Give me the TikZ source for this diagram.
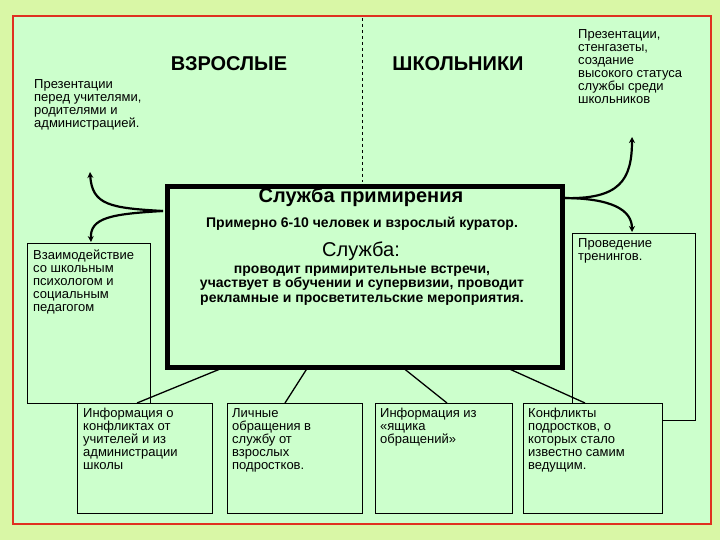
\documentclass[tikz,border=0pt]{standalone}
\usepackage{fontspec}
\setmainfont{Liberation Sans}
\usetikzlibrary{arrows.meta}
\definecolor{bgout}{HTML}{D9F7A6}
\definecolor{bgin}{HTML}{CCFFCC}
\definecolor{redb}{HTML}{E03020}
\tikzset{x=1pt,y=-1pt,
 box/.style={draw=black,line width=0.6pt,fill=bgin,anchor=north west,inner sep=0pt},
 txt/.style={font=\fontsize{13}{13}\selectfont,align=left,anchor=north west,inner sep=0pt},
 con/.style={line width=1.3pt},
 arr/.style={line width=2.2pt,-{Stealth[length=6pt,width=6pt]}}}
\begin{document}
\begin{tikzpicture}
\useasboundingbox (0,0) rectangle (720,540);
\fill[bgout] (0,0) rectangle (720,540);
\draw[redb,line width=2pt,fill=bgin] (13,16) rectangle (711,524);
\draw[dashed,line width=1pt] (362,18) -- (362,182);
\node[font=\bfseries\fontsize{20}{22}\selectfont] (vz) at (229,64) {ВЗРОСЛЫЕ};
\node[font=\bfseries\fontsize{20}{22}\selectfont] (sh) at (458,64) {ШКОЛЬНИКИ};
\node[txt] (pl) at (34,79) {Презентации\\перед учителями,\\родителями и\\администрацией.};
\node[txt] (pr) at (578,29) {Презентации,\\стенгазеты,\\создание\\высокого статуса\\службы среди\\школьников};
\node[draw,line width=5pt,fill=bgin,minimum width=395pt,minimum height=181pt,anchor=north west,inner sep=0pt] (c) at (165,184) {};
\node[font=\bfseries\fontsize{20}{22}\selectfont] (c1) at (361,197) {Служба примирения};
\node[font=\bfseries\fontsize{14}{15}\selectfont] (c2) at (362,224) {Примерно 6-10 человек и взрослый куратор.};
\node[font=\fontsize{20}{22}\selectfont] (c3) at (361,251) {Служба:};
\node[font=\bfseries\fontsize{14}{14.5}\selectfont,align=center,anchor=north] (c4) at (362,262) {проводит примирительные встречи,\\участвует в обучении и супервизии, проводит\\рекламные и просветительские мероприятия.};
\node[box,minimum width=123pt,minimum height=160pt] (lb) at (27,243) {};
\node[txt] (lbt) at (33,250) {Взаимодействие\\со школьным\\психологом и\\социальным\\педагогом};
\node[box,minimum width=123pt,minimum height=187pt] (rb) at (572,233) {};
\node[txt] (rbt) at (578,238) {Проведение\\тренингов.};
\node[box,minimum width=135pt,minimum height=110pt] (b1) at (77,403) {};
\node[box,minimum width=135pt,minimum height=110pt] (b2) at (227,403) {};
\node[box,minimum width=137pt,minimum height=110pt] (b3) at (375,403) {};
\node[box,minimum width=139pt,minimum height=110pt] (b4) at (523,403) {};
\node[txt] (t1) at (83,408) {Информация о\\конфликтах от\\учителей и из\\администрации\\школы};
\node[txt] (t2) at (232,408) {Личные\\обращения в\\службу от\\взрослых\\подростков.};
\node[txt] (t3) at (380,408) {Информация из\\«ящика\\обращений»};
\node[txt] (t4) at (528,408) {Конфликты\\подростков, о\\которых стало\\известно самим\\ведущим.};
\coordinate (cb1) at (225,367);
\coordinate (cb2) at (308,367);
\coordinate (cb3) at (402,367);
\coordinate (cb4) at (505,367);
\draw[con] (cb1) -- (137,403);
\draw[con] (cb2) -- (285,403);
\draw[con] (cb3) -- (447,403);
\draw[con] (cb4) -- (585,403);
\coordinate (lo) at (163,211);
\coordinate (ro) at (562,198);
\draw[arr] (lo) .. controls (110,208) and (92,205) .. (90,172);
\draw[arr] (lo) .. controls (110,214) and (90,218) .. (91,242);
\draw[arr] (ro) .. controls (620,200) and (632,180) .. (632,137);
\draw[arr] (ro) .. controls (612,198) and (632,210) .. (632,232);
\end{tikzpicture}
\end{document}
